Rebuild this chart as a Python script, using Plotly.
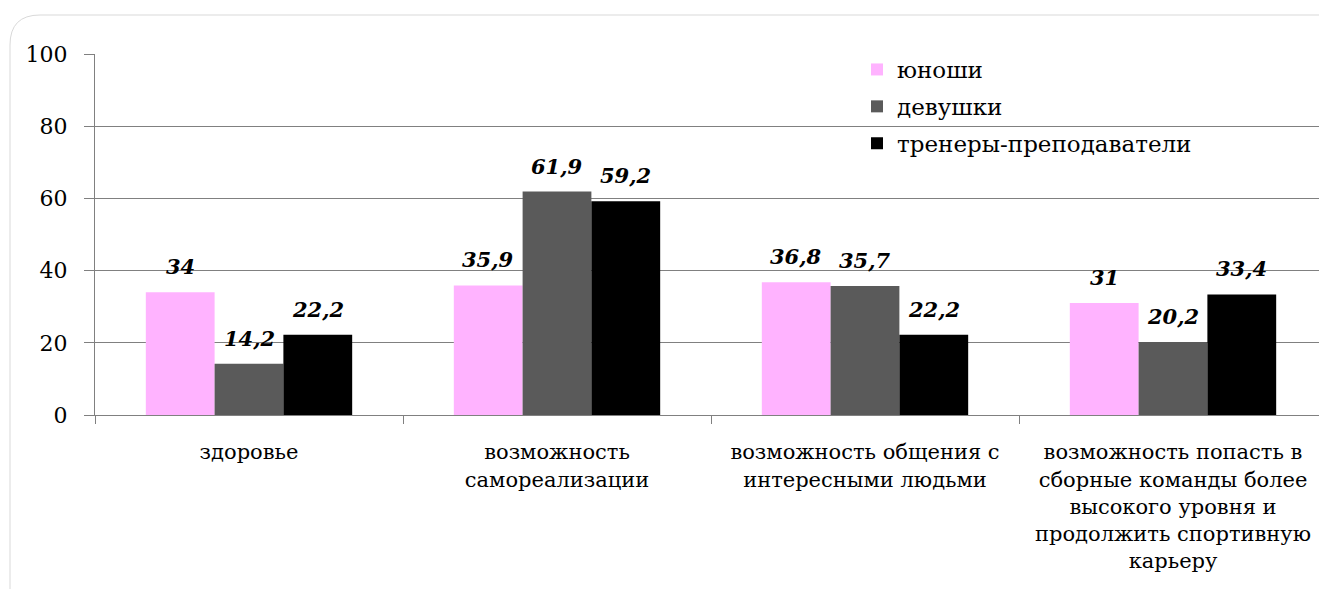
import plotly.graph_objects as go

categories = [
    "здоровье",
    "возможность<br>самореализации",
    "возможность общения с<br>интересными людьми",
    "возможность попасть в<br>сборные команды более<br>высокого уровня и<br>продолжить спортивную<br>карьеру",
]
series_names = ["юноши", "девушки", "тренеры-преподаватели"]
youths = [34, 35.9, 36.8, 31]
girls = [14.2, 61.9, 35.7, 20.2]
coaches = [22.2, 59.2, 22.2, 33.4]
series_values = [youths, girls, coaches]
colors = ["#FFB3FF", "#5A5A5A", "#000000"]
y_ticks = [0, 20, 40, 60, 80, 100]

SERIF = "DejaVu Serif"

W, H = 1319, 589
ML, MT, MB = 95, 54, 174

fig = go.Figure()
for i, (name, vals, col) in enumerate(zip(series_names, series_values, colors)):
    fig.add_trace(go.Bar(
        x=categories, y=vals, name=name,
        marker=dict(color=col, line=dict(width=0)),
        legendgroup=f"g{i}",
    ))

# value labels above each bar
n = len(series_names)
bar_w = (1 - 0.33) / n
for i, vals in enumerate(series_values):
    for j, v in enumerate(vals):
        fig.add_annotation(
            x=j - (1 - 0.33) / 2 + bar_w * (i + 0.5), y=v,
            xref="x", yref="y",
            text=f"<b><i>{v:g}</i></b>".replace(".", ","),
            showarrow=False, yanchor="bottom", yshift=11,
            font=dict(family=SERIF, size=21, color="#000000"),
        )

# light rounded frame around the chart
pw = W - ML
ph = H - MT - MB
def px(x):
    return (x - ML) / pw
def py(y):
    return (H - MB - y) / ph
frame = (f"M {px(10)},{py(589)} L {px(10)},{py(45)} "
         f"Q {px(10)},{py(15)} {px(40)},{py(15)} L {px(1319)},{py(15)}")
fig.add_shape(type="path", path=frame, xref="paper", yref="paper",
              line=dict(color="#D9D9D9", width=1), layer="below")

fig.update_layout(
    width=W, height=H,
    margin=dict(l=ML, r=0, t=MT, b=MB),
    paper_bgcolor="#FFFFFF", plot_bgcolor="#FFFFFF",
    barmode="group", bargap=0.33, bargroupgap=0,
    font=dict(family=SERIF, size=20, color="#000000"),
    showlegend=True,
    legend=dict(
        x=(857 - ML) / pw, y=py(48), xanchor="left", yanchor="top",
        traceorder="grouped", tracegroupgap=4,
        font=dict(family=SERIF, size=23, color="#000000"),
        bgcolor="rgba(0,0,0,0)", itemwidth=30,
    ),
    xaxis=dict(
        type="category", range=[-0.5, 3.5 - 8 / 308],
        tickson="boundaries", ticks="outside", ticklen=8,
        tickcolor="#808080", showline=True, linecolor="#808080",
        showgrid=False, tickfont=dict(family=SERIF, size=21),
        ticklabelstandoff=18, tickangle=0,
    ),
    yaxis=dict(
        range=[0, 100], tickvals=y_ticks, ticks="outside", ticklen=10,
        tickcolor="#808080", showline=True, linecolor="#808080",
        showgrid=True, gridcolor="#808080", gridwidth=1,
        zeroline=False, tickfont=dict(family=SERIF, size=22),
        ticklabelstandoff=12,
    ),
)

fig.write_html("out.html")
